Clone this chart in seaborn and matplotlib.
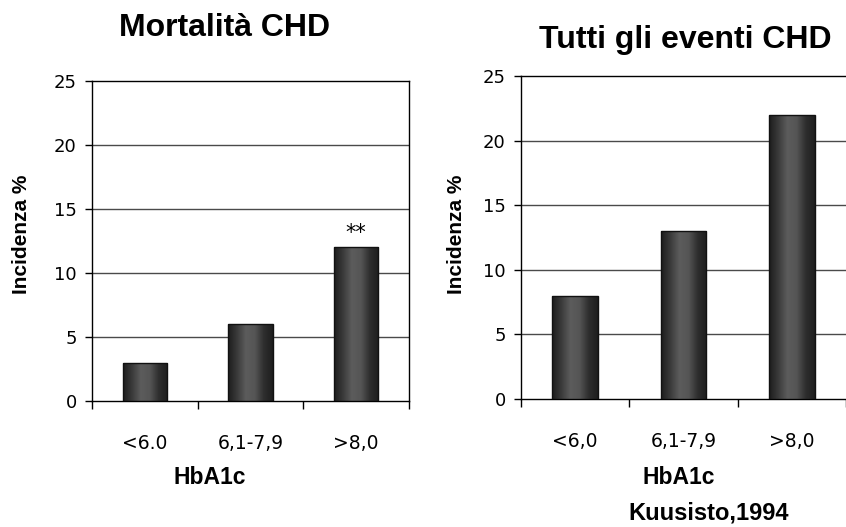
import numpy as np
import pandas as pd
import matplotlib
matplotlib.use("Agg")
import matplotlib.pyplot as plt
from matplotlib.colors import LinearSegmentedColormap
import seaborn as sns

# dati
categorie_mort = ["<6.0", "6,1-7,9", ">8,0"]
mortalita = [3, 6, 12]
categorie_eventi = ["<6,0", "6,1-7,9", ">8,0"]
eventi = [8, 13, 22]
y_ticks = [0, 5, 10, 15, 20, 25]

sns.set_theme(style="white")
plt.rcParams["font.family"] = ["DejaVu Sans"]
plt.rcParams.update({"text.color": "black", "axes.labelcolor": "black",
                     "xtick.color": "black", "ytick.color": "black"})

bold = dict(family="Liberation Sans", weight="bold", color="black")

# sfumatura delle barre: bordi scuri, centro più chiaro
cmap_barra = LinearSegmentedColormap.from_list(
    "barra", ["#1c1c1c", "#3a3a3a", "#5c5c5c", "#555555", "#2e2e2e", "#1e1e1e"])


def sfuma_barre(ax):
    grad = np.linspace(0, 1, 256).reshape(1, -1)
    for p in ax.patches:
        x0, w, h = p.get_x(), p.get_width(), p.get_height()
        im = ax.imshow(grad, cmap=cmap_barra, aspect="auto",
                       extent=(x0, x0 + w, 0, h), zorder=3)
        im.set_clip_path(p)
        p.set_facecolor("none")
        p.set_edgecolor("#111111")
        p.set_linewidth(1.0)
        p.set_zorder(4)


def pannello(ax, categorie, valori, titolo, tx, ty, xl, yl):
    df = pd.DataFrame({"cat": categorie, "val": valori})
    sns.barplot(data=df, x="cat", y="val", ax=ax, width=0.42,
                color="#333333", saturation=1)
    sfuma_barre(ax)
    ax.set_xlim(-0.5, len(categorie) - 0.5)
    ax.set_ylim(0, 25)
    ax.set_yticks(y_ticks)
    for v in y_ticks[1:-1]:
        ax.axhline(v, color="#4a4a4a", lw=1.0, zorder=1)
    # tacche ai confini delle categorie, etichette al centro
    ax.set_xticks(np.arange(-0.5, len(categorie)), minor=False)
    ax.set_xticklabels([])
    ax.set_xticks(range(len(categorie)), minor=True)
    ax.set_xticklabels(categorie, minor=True, fontsize=13.5)
    ax.tick_params(axis="x", which="major", direction="out", length=6,
                   width=1, color="black", bottom=True)
    ax.tick_params(axis="x", which="minor", length=0, pad=24)
    ax.tick_params(axis="y", direction="out", length=5, width=1,
                   color="black", left=True, labelsize=13, pad=6)
    for s in ax.spines.values():
        s.set_color("black")
        s.set_linewidth(1.0)
    ax.set_xlabel("HbA1c", fontsize=16.5, **bold)
    ax.xaxis.set_label_coords(xl, yl)
    ax.set_ylabel("Incidenza %", fontsize=15, **bold)
    ax.text(tx, ty, titolo, transform=ax.transAxes, ha="center",
            va="center", fontsize=23, **bold)


fig = plt.figure(figsize=(8.46, 5.27), dpi=100)
ax1 = fig.add_axes([0.1087, 0.2391, 0.3747, 0.6072])
ax2 = fig.add_axes([0.6158, 0.2429, 0.3842, 0.6129])

pannello(ax1, categorie_mort, mortalita, "Mortalità CHD", 0.418, 1.165, 0.372, -0.203)
ax1.yaxis.set_label_coords(-0.192, 0.52)

pannello(ax2, categorie_eventi, eventi, "Tutti gli eventi CHD", 0.505, 1.111, 0.486, -0.207)
ax2.yaxis.set_label_coords(-0.169, 0.51)
ax2.spines["right"].set_visible(False)

# asterischi di significatività sopra l'ultima barra
ultima = ax1.patches[-1]
ax1.annotate("**", (ultima.get_x() + ultima.get_width() / 2, ultima.get_height()),
             xytext=(0, 3), textcoords="offset points", ha="center",
             va="bottom", fontsize=15)

fig.text(709 / 846, 1 - 513 / 527, "Kuusisto,1994", ha="center", va="center",
         fontsize=17, **bold)

fig.savefig("out.png", dpi=100)
